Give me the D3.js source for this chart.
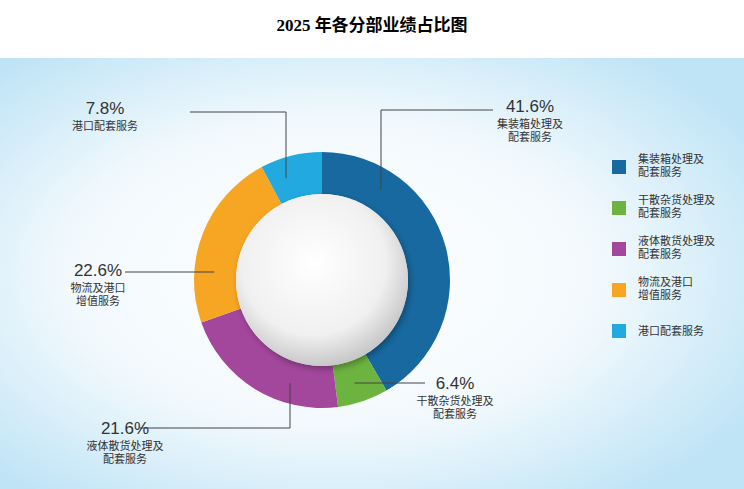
<!DOCTYPE html>
<html><head><meta charset="utf-8">
<script src="https://cdnjs.cloudflare.com/ajax/libs/d3/7.8.4/d3.min.js"></script>
<style>body{margin:0;background:#fff}</style>
</head><body><div id="chart"></div>
<script>
const segments = ["集装箱处理及配套服务", "干散杂货处理及配套服务", "液体散货处理及配套服务", "物流及港口增值服务", "港口配套服务"];
const shares = [41.6, 6.4, 21.6, 22.6, 7.8];
const colours = ["#1769a0", "#6db33f", "#a3479c", "#f6a623", "#22a9df"];
const labelLines = [["集装箱处理及", "配套服务"], ["干散杂货处理及", "配套服务"], ["液体散货处理及", "配套服务"], ["物流及港口", "增值服务"], ["港口配套服务"]];

const W = 744, H = 489;
const svg = d3.select("#chart").append("svg").attr("width", W).attr("height", H);
const defs = svg.append("defs");

const bg = defs.append("radialGradient").attr("id", "bg").attr("cx", "45%").attr("cy", "50%").attr("r", "65%");
bg.append("stop").attr("offset", "0%").attr("stop-color", "#ffffff");
bg.append("stop").attr("offset", "55%").attr("stop-color", "#f2f9fd");
bg.append("stop").attr("offset", "100%").attr("stop-color", "#bfe4f6");
const inner = defs.append("radialGradient").attr("id", "inner").attr("cx", "45%").attr("cy", "40%").attr("r", "60%");
inner.append("stop").attr("offset", "0%").attr("stop-color", "#ffffff");
inner.append("stop").attr("offset", "70%").attr("stop-color", "#f0f0f0");
inner.append("stop").attr("offset", "100%").attr("stop-color", "#c8c8c8");
const sh = defs.append("filter").attr("id", "sh").attr("x", "-20%").attr("y", "-20%").attr("width", "140%").attr("height", "140%");
sh.append("feDropShadow").attr("dx", 2).attr("dy", 3).attr("stdDeviation", 3).attr("flood-color", "#000").attr("flood-opacity", 0.3);

svg.append("rect").attr("x", 0).attr("y", 58).attr("width", W).attr("height", H - 58).attr("fill", "url(#bg)");

svg.append("text").attr("x", 372).attr("y", 31).attr("text-anchor", "middle")
  .attr("font-family", "Liberation Serif, 'Noto Sans CJK SC', serif").attr("font-weight", "bold").attr("font-size", 17)
  .text("2025 年各分部业绩占比图");

const cx = 322, cy = 280, R = 128, r = 86;
const pie = d3.pie().sort(null).value(d => d)(shares);
const arc = d3.arc().innerRadius(r).outerRadius(R);
const g = svg.append("g").attr("transform", `translate(${cx},${cy})`);
g.selectAll("path").data(pie).join("path").attr("d", arc).attr("fill", (d, i) => colours[i]);
g.append("circle").attr("r", r).attr("fill", "url(#inner)").attr("filter", "url(#sh)");

// anchor on the ring at radius rr, given an x (vertical legs) or a y (horizontal legs)
const rr = 108;
const atX = (x, sign) => [x, cy + sign * Math.sqrt(rr * rr - (x - cx) ** 2)];
const atY = (y, sign) => [cx + sign * Math.sqrt(rr * rr - (y - cy) ** 2), y];
const leaders = [
  { tx: 530, ty: 112, pts: [atX(381, -1), [381, 110], [493, 110]] },
  { tx: 455, ty: 389, pts: [atY(383, 1), [425, 383]] },
  { tx: 125, ty: 434, pts: [atX(290, 1), [290, 428], [140, 428]] },
  { tx: 98, ty: 276, pts: [atY(272, -1), [125, 272]] },
  { tx: 105, ty: 114, pts: [atX(286, -1), [286, 112], [190, 112]] }
];
const line = d3.line();
leaders.forEach((L, i) => {
  svg.append("path").attr("d", line(L.pts)).attr("fill", "none").attr("stroke", "#444").attr("stroke-width", 1);
  const t = svg.append("text").attr("x", L.tx).attr("y", L.ty).attr("text-anchor", "middle")
    .attr("font-family", "'Noto Sans CJK SC', sans-serif").attr("fill", "#333");
  t.append("tspan").attr("x", L.tx).attr("font-size", 17).attr("font-family", "Liberation Sans, sans-serif").text(d3.format(".1f")(shares[i]) + "%");
  labelLines[i].forEach((s, j) => t.append("tspan").attr("x", L.tx).attr("dy", j === 0 ? 16 : 13).attr("font-size", 11).text(s));
});

// legend
const leg = svg.append("g").attr("transform", "translate(612,160)");
const yL = d3.scalePoint().domain(segments).range([0, 164]);
segments.forEach((s, i) => {
  const y = yL(s);
  leg.append("rect").attr("x", 0).attr("y", y).attr("width", 14).attr("height", 14).attr("fill", colours[i]);
  const t = leg.append("text").attr("x", 26).attr("y", y + 3).attr("font-family", "'Noto Sans CJK SC', sans-serif").attr("font-size", 11).attr("fill", "#333");
  labelLines[i].forEach((l, j) => t.append("tspan").attr("x", 26).attr("dy", j === 0 ? 0 : 13).text(l));
  if (labelLines[i].length === 1) t.attr("y", y + 11);
});
</script></body></html>
